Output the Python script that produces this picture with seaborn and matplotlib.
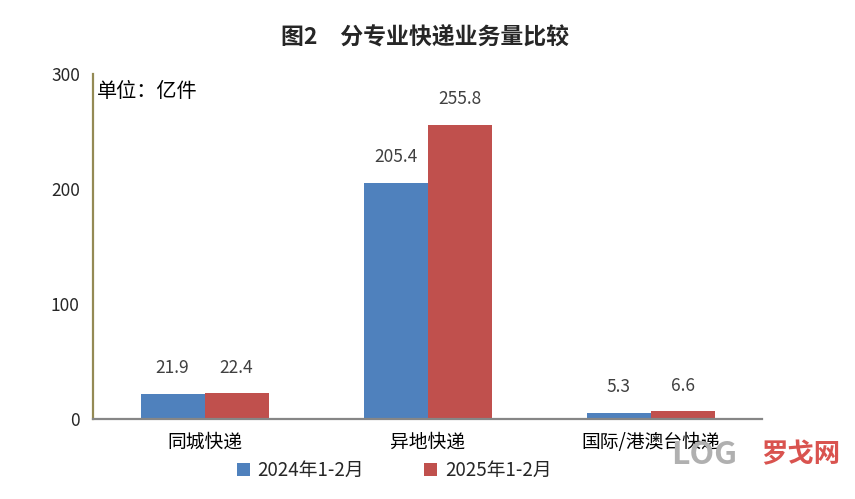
import pandas as pd
import matplotlib
matplotlib.use('Agg')
import matplotlib.pyplot as plt
import seaborn as sns

sns.set_style('white')
plt.rcParams['font.family'] = ['Noto Sans CJK SC', 'DejaVu Sans']
plt.rcParams['axes.unicode_minus'] = False

categories = ['同城快递', '异地快递', '国际/港澳台快递']
series = ['2024年1-2月', '2025年1-2月']
values_2024 = [21.9, 205.4, 5.3]
values_2025 = [22.4, 255.8, 6.6]
colors = ['#4F81BD', '#C0504D']

df = pd.DataFrame({
    '类别': categories * 2,
    '时间': [series[0]] * 3 + [series[1]] * 3,
    '业务量': values_2024 + values_2025,
})

fig = plt.figure(figsize=(8.55, 4.99), dpi=100)
ax = fig.add_axes([0.1088, 0.1603, 0.7825, 0.6914])

sns.barplot(data=df, x='类别', y='业务量', hue='时间', palette=colors,
            width=0.574, gap=0, saturation=1, linewidth=0, ax=ax, legend=True)

for cont in ax.containers:
    labels = [f'{v:.1f}' for v in cont.datavalues]
    ax.bar_label(cont, labels=labels, padding=12, fontsize=12.5, color='#404040')

ax.set_ylim(0, 300)
ax.set_xlim(-0.5, 2.5)
ax.set_yticks([0, 100, 200, 300])
ax.set_xlabel('')
ax.set_ylabel('')
ax.set_xticks([0, 1, 2])
ax.set_xticks([-0.5, 0.5, 1.5, 2.5], minor=True)
ax.tick_params(axis='x', which='major', length=0, labelsize=13.5, pad=9, colors='#000000')
ax.tick_params(axis='x', which='minor', length=6, width=1.2, color='#868686', direction='out')
ax.tick_params(axis='y', length=6, width=1.2, color='#948A54', direction='out', labelsize=12.5)

sns.despine(ax=ax)
ax.spines['left'].set_color('#948A54')
ax.spines['left'].set_linewidth(1.6)
ax.spines['bottom'].set_color('#868686')
ax.spines['bottom'].set_linewidth(1.6)

ax.text(0.006, 0.95, '单位：亿件', transform=ax.transAxes, fontsize=14.5,
        ha='left', va='center', color='#000000')

leg = ax.legend(loc='center', bbox_to_anchor=(0.45, -0.15), ncol=2, frameon=False,
                fontsize=13.5, handlelength=0.7, handleheight=0.7, columnspacing=3.2,
                handletextpad=0.4)

fig.text(0.497, 0.924, '图2　分专业快递业务量比较', ha='center', va='center',
         fontsize=16.5, fontweight='bold')

fig.text(0.785, 0.088, 'LOG', ha='left', va='center', fontsize=23,
         fontweight='bold', color='#B0B0B0')
fig.text(0.89, 0.088, '罗戈网', ha='left', va='center', fontsize=19,
         fontweight='bold', color='#D9534F')

fig.savefig('out.png', dpi=100)
